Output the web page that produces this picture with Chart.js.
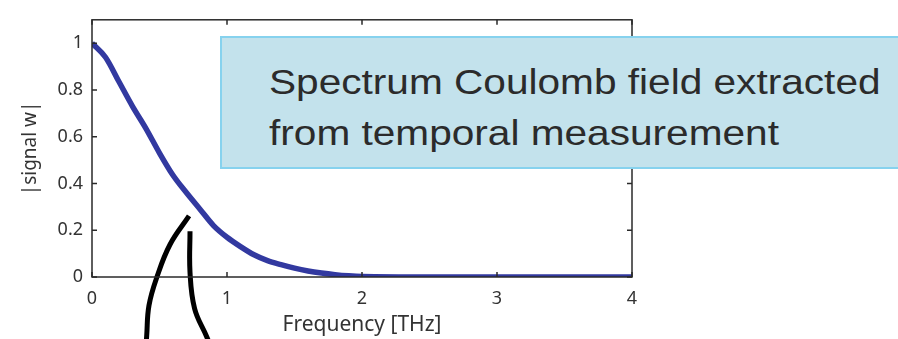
<!DOCTYPE html>
<html lang="en">
<head>
    <meta charset="UTF-8">
    <title>Spectrum Coulomb field</title>
    <script src="https://cdn.jsdelivr.net/npm/chart.js"></script>
    <style>
        body { margin: 0; background: #ffffff; }
        #wrap { position: relative; width: 898px; height: 339px; overflow: hidden; }
        #note {
            position: absolute;
            left: 220px;
            top: 36px;
            width: 700px;
            height: 133px;
            background: #c3e2ec;
            border: 2px solid #86d2ee;
            box-sizing: border-box;
            color: #2b2b2b;
            font-family: "Liberation Sans", Arial, sans-serif;
            font-size: 35px;
            line-height: 51px;
            padding: 18px 0 0 47px;
        }
        #note span { display: inline-block; transform: scaleX(1.16); transform-origin: left center; white-space: nowrap; }
    </style>
</head>
<body>
<div id="wrap">
    <canvas id="spectrum" width="898" height="339"></canvas>
    <div id="note"><span>Spectrum Coulomb field extracted</span><br><span>from temporal measurement</span></div>
</div>
<script>
    // |signal(w)| of the measured spectrum, frequency in THz
    const freq = [0, 0.1, 0.2, 0.3, 0.4, 0.5, 0.6, 0.7, 0.8, 0.9, 1.0, 1.1, 1.2, 1.3, 1.4, 1.5, 1.6, 1.7, 1.8, 1.9, 2.0, 2.5, 3.0, 3.5, 4.0];
    const amplitude = [1.0, 0.94, 0.835, 0.73, 0.635, 0.53, 0.435, 0.36, 0.29, 0.22, 0.17, 0.13, 0.095, 0.07, 0.053, 0.038, 0.026, 0.017, 0.01, 0.005, 0.002, 0, 0, 0, 0];

    // hand-drawn pointer strokes below the curve (data units)
    const strokeLeft = [[0.719, 0.261], [0.578, 0.139], [0.481, 0], [0.422, -0.122], [0.405, -0.253], [0.4, -0.3]];
    const strokeRight = [[0.726, 0.196], [0.726, 0.02], [0.76, -0.135], [0.848, -0.253], [0.881, -0.3]];

    const xTicks = [0, 1, 2, 3, 4];
    const yTicks = [0, 0.2, 0.4, 0.6, 0.8, 1];

    const toPoints = (xs, ys) => xs.map((x, i) => ({ x: x, y: ys[i] }));
    const pairs = arr => arr.map(p => ({ x: p[0], y: p[1] }));

    // matlab style box with inward ticks on all four sides
    const boxPlugin = {
        id: 'box',
        afterDraw(chart) {
            const { ctx, chartArea: a, scales } = chart;
            const len = 5;
            ctx.save();
            ctx.strokeStyle = '#2a2a2a';
            ctx.lineWidth = 1.5;
            ctx.strokeRect(a.left, a.top, a.right - a.left, a.bottom - a.top);
            ctx.beginPath();
            xTicks.forEach(v => {
                const px = scales.x.getPixelForValue(v);
                ctx.moveTo(px, a.bottom); ctx.lineTo(px, a.bottom - len);
                ctx.moveTo(px, a.top); ctx.lineTo(px, a.top + len);
            });
            yTicks.forEach(v => {
                const py = scales.y.getPixelForValue(v);
                ctx.moveTo(a.left, py); ctx.lineTo(a.left + len, py);
                ctx.moveTo(a.right, py); ctx.lineTo(a.right - len, py);
            });
            ctx.stroke();
            ctx.restore();
        }
    };

    const tickFont = { family: '"Noto Sans", sans-serif', size: 18 };

    new Chart(document.getElementById('spectrum'), {
        type: 'scatter',
        data: {
            datasets: [{
                data: toPoints(freq, amplitude),
                showLine: true,
                borderColor: '#3239a0',
                borderWidth: 5.5,
                pointRadius: 0,
                cubicInterpolationMode: 'monotone'
            }, {
                data: pairs(strokeLeft),
                showLine: true,
                borderColor: '#000000',
                borderWidth: 5,
                pointRadius: 0,
                tension: 0.4,
                clip: false
            }, {
                data: pairs(strokeRight),
                showLine: true,
                borderColor: '#000000',
                borderWidth: 5,
                pointRadius: 0,
                tension: 0.4,
                clip: false
            }]
        },
        options: {
            responsive: false,
            animation: false,
            layout: { padding: { top: 6, right: 266, left: 0, bottom: 0 } },
            plugins: { legend: { display: false }, tooltip: { enabled: false } },
            scales: {
                x: {
                    type: 'linear',
                    min: 0,
                    max: 4,
                    afterBuildTicks: s => { s.ticks = xTicks.map(v => ({ value: v })); },
                    afterFit: s => { s.height = 62; },
                    grid: { display: false, drawTicks: false },
                    border: { display: false },
                    ticks: { color: '#333333', font: tickFont, padding: 11, callback: v => String(v) },
                    title: {
                        display: true,
                        text: 'Frequency [THz]',
                        color: '#333333',
                        font: { family: '"Noto Sans", sans-serif', size: 21 },
                        padding: { top: 0, bottom: 1 }
                    }
                },
                y: {
                    min: 0,
                    max: 1.1,
                    afterBuildTicks: s => { s.ticks = yTicks.map(v => ({ value: v })); },
                    afterFit: s => { s.width = 92; },
                    grid: { display: false, drawTicks: false },
                    border: { display: false },
                    ticks: { color: '#333333', font: tickFont, padding: 9, callback: v => String(v) },
                    title: {
                        display: true,
                        text: '|signal w|',
                        color: '#333333',
                        font: { family: '"Noto Sans", sans-serif', size: 19 },
                        padding: { top: 19, bottom: 0 }
                    }
                }
            }
        },
        plugins: [boxPlugin]
    });
</script>
</body>
</html>
